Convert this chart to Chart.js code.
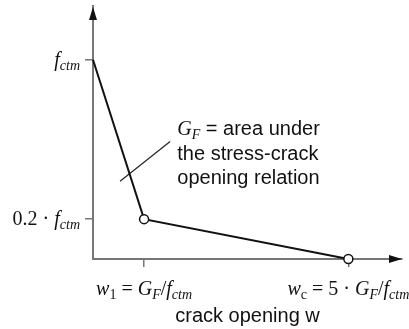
<!DOCTYPE html>
<html>
<head>
<meta charset="utf-8">
<script src="https://cdn.jsdelivr.net/npm/chart.js@4.4.1/dist/chart.umd.min.js"></script>
<style>
  html, body { margin: 0; padding: 0; background: #fff; }
  #wrap { width: 409px; height: 329px; }
</style>
</head>
<body>
<div id="wrap"><canvas id="myChart"></canvas></div>
<script>
// crack opening in units of G_F/f_ctm, stress in units of f_ctm
const crackOpening = [0, 1, 5];
const stress = [1, 0.2, 0];

const xTickValues = [1, 5];
const yTickValues = [0.2, 1];

// $...$ = math: letters italic, _xx italic subscript, ~xx upright subscript
const xTickLabels = ['$w~1 = G_F/f_ctm$', '$w~c = 5 · G_F/f_ctm$'];
const yTickLabels = ['$0.2 · f_ctm$', '$f_ctm$'];
const xAxisTitle = 'crack opening w';

// note about the area under the curve, with its leader line
const noteLines = ['$G_F$ = area under', 'the stress-crack', 'opening relation'];
const noteAnchor = {x: 1.65, y: 0.62};
const leaderX = [0.53, 1.51];
const leaderY = [0.39, 0.59];

const SERIF = '"Liberation Serif", "DejaVu Serif", serif';
const SANS = '"Liberation Sans", Arial, sans-serif';
const INK = '#111';
const AXIS = '#777';

function parseRich(str) {
    const runs = [];
    const push = (t, font, dy) => {
        const last = runs[runs.length - 1];
        if (last && last.font === font && last.dy === dy) last.t += t;
        else runs.push({t, font, dy});
    };
    str.split('$').forEach((part, k) => {
        if (k % 2 === 0) {
            if (part) push(part, '20px ' + SANS, 0);
            return;
        }
        let i = 0;
        while (i < part.length) {
            const ch = part[i];
            if (ch === '_' || ch === '~') {
                let j = i + 1;
                while (j < part.length && /[A-Za-z0-9]/.test(part[j])) j++;
                const font = (ch === '_' ? 'italic ' : '') + '14px ' + SERIF;
                push(part.slice(i + 1, j), font, 4);
                i = j;
            } else {
                const font = (/[A-Za-z]/.test(ch) ? 'italic ' : '') + '20px ' + SERIF;
                push(ch, font, 0);
                i++;
            }
        }
    });
    return runs;
}

function drawRich(ctx, str, x, y, align) {
    const runs = parseRich(str);
    let total = 0;
    runs.forEach(r => { ctx.font = r.font; r.w = ctx.measureText(r.t).width; total += r.w; });
    let cx = align === 'right' ? x - total : align === 'center' ? x - total / 2 : x;
    runs.forEach(r => {
        ctx.font = r.font;
        ctx.fillText(r.t, cx, y + r.dy);
        cx += r.w;
    });
}

// rich tick labels, the note text and the axis arrowheads
const richLabels = {
    id: 'richLabels',
    afterDraw(chart) {
        const {ctx, chartArea, scales: {x, y}} = chart;
        ctx.save();
        ctx.fillStyle = INK;
        ctx.textBaseline = 'alphabetic';
        ctx.textAlign = 'left';

        yTickValues.forEach((v, i) => {
            drawRich(ctx, yTickLabels[i], chartArea.left - 13, y.getPixelForValue(v) + 6, 'right');
        });
        xTickValues.forEach((v, i) => {
            drawRich(ctx, xTickLabels[i], x.getPixelForValue(v), chartArea.bottom + 36, 'center');
        });
        const nx = x.getPixelForValue(noteAnchor.x);
        const ny = y.getPixelForValue(noteAnchor.y);
        noteLines.forEach((line, i) => drawRich(ctx, line, nx, ny + i * 24.5, 'left'));

        // arrowheads
        const l = chartArea.left, t = chartArea.top, r = chartArea.right, b = chartArea.bottom;
        ctx.beginPath();
        ctx.moveTo(l, t + 1);
        ctx.lineTo(l - 4, t + 14);
        ctx.lineTo(l + 4, t + 14);
        ctx.closePath();
        ctx.fill();
        ctx.beginPath();
        ctx.moveTo(r, b);
        ctx.lineTo(r - 13, b - 4);
        ctx.lineTo(r - 13, b + 4);
        ctx.closePath();
        ctx.fill();
        ctx.restore();
    }
};

const ctx = document.getElementById('myChart').getContext('2d');

new Chart(ctx, {
    type: 'line',
    data: {
        datasets: [{
            data: crackOpening.map((w, i) => ({x: w, y: stress[i]})),
            borderColor: INK,
            borderWidth: 2,
            pointRadius: [0, 4.5, 4.5],
            pointBackgroundColor: '#fff',
            pointBorderColor: INK,
            pointBorderWidth: 1.5,
            tension: 0,
            clip: false
        }, {
            data: leaderX.map((w, i) => ({x: w, y: leaderY[i]})),
            borderColor: '#222',
            borderWidth: 1.2,
            pointRadius: 0,
            tension: 0
        }]
    },
    options: {
        responsive: true,
        maintainAspectRatio: false,
        animation: false,
        events: [],
        layout: {padding: {top: 6, right: 7, left: 0, bottom: 0}},
        plugins: {
            legend: {display: false},
            tooltip: {enabled: false}
        },
        scales: {
            x: {
                type: 'linear',
                min: 0,
                max: 6.05,
                afterBuildTicks: s => { s.ticks = xTickValues.map(v => ({value: v})); },
                afterFit: s => { s.height = 70; },
                ticks: {display: false},
                grid: {drawOnChartArea: false, drawTicks: true, tickLength: 8, color: AXIS, lineWidth: 1.5},
                border: {color: AXIS, width: 2},
                title: {
                    display: true,
                    text: xAxisTitle,
                    color: INK,
                    font: {family: SANS, size: 20},
                    padding: {top: 0, bottom: 1}
                }
            },
            y: {
                type: 'linear',
                min: 0,
                max: 1.27,
                afterBuildTicks: s => { s.ticks = yTickValues.map(v => ({value: v})); },
                afterFit: s => { s.width = 93; },
                ticks: {display: false},
                grid: {drawOnChartArea: false, drawTicks: true, tickLength: 8, color: AXIS, lineWidth: 1.5},
                border: {color: AXIS, width: 2}
            }
        }
    },
    plugins: [richLabels]
});
</script>
</body>
</html>
